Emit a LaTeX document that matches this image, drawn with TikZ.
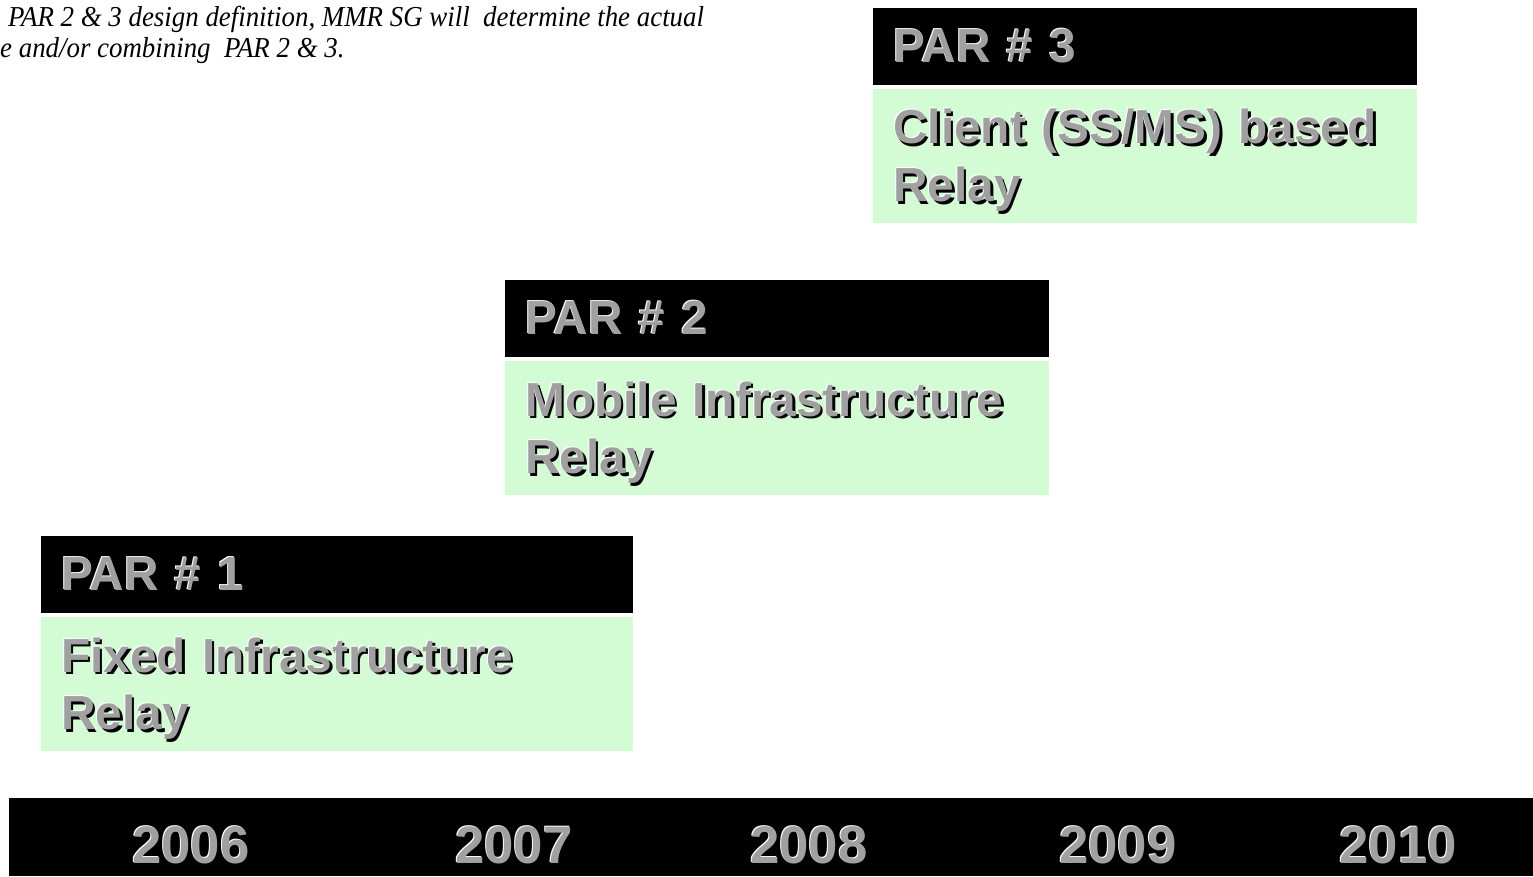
\documentclass[tikz,border=0pt]{standalone}
\usepackage{fontspec}
\setmainfont{Liberation Sans}
\newfontfamily\notefont[FakeStretch=0.93]{Liberation Serif}
\usetikzlibrary{positioning}
\definecolor{bodygreen}{RGB}{212,252,212}
\definecolor{txtgray}{RGB}{160,160,160}
\newcommand{\emb}[1]{\makebox[0pt][l]{\hspace{2.5bp}\raisebox{-2.5bp}{\color{black}#1}}\makebox[0pt][l]{\hspace{-1bp}\raisebox{1bp}{\color{white}#1}}{\color{txtgray}#1}}

\begin{document}
\begin{tikzpicture}[x=1bp,y=-1bp]
  \tikzset{head/.style = {fill=black,anchor=north west,minimum height=77bp,inner xsep=20bp,inner ysep=0pt,align=left,font=\fontsize{48}{58}\selectfont\bfseries}}
  \tikzset{body/.style = {fill=bodygreen,minimum height=134bp,inner xsep=20bp,inner ysep=0pt,align=left,font=\fontsize{48}{58}\selectfont\bfseries}}
  \tikzset{year/.style = {font=\fontsize{53}{60}\selectfont\bfseries,inner sep=0pt}}
  \useasboundingbox (0,0) rectangle (1533,876);

  % note at top left
  \node[anchor=north west,inner sep=0pt,align=left,font=\fontsize{29}{31}\selectfont\notefont\itshape] (note) at (0,6)
    {\hspace*{8bp}PAR 2 \& 3 design definition, MMR SG will\ \ determine the actual\\e and/or combining\ \ PAR 2 \& 3.};

  % PAR boxes
  \node[head,text width=504bp] (head3) at (873,8) {\emb{PAR \# 3}};
  \node[body,text width=504bp,below=3bp of head3] (body3) {\rule{0pt}{47bp}\emb{Client (SS/MS) based}\\\emb{Relay}};

  \node[head,text width=504bp] (head2) at (505,280) {\emb{PAR \# 2}};
  \node[body,text width=504bp,below=3bp of head2] (body2) {\rule{0pt}{47bp}\emb{Mobile Infrastructure}\\\emb{Relay}};

  \node[head,text width=552bp] (head1) at (41,536) {\emb{PAR \# 1}};
  \node[body,text width=552bp,below=3bp of head1] (body1) {\rule{0pt}{47bp}\emb{Fixed Infrastructure}\\\emb{Relay}};

  % time line
  \node[fill=black,anchor=north west,minimum width=1524bp,minimum height=78bp,inner sep=0pt] (bar) at (9,798) {};
  \foreach \yr/\xpos in {2006/191,2007/514,2008/809,2009/1118,2010/1398}
    \node[year] (y\yr) at (\xpos,846) {\emb{\yr}};

\end{tikzpicture}
\end{document}
